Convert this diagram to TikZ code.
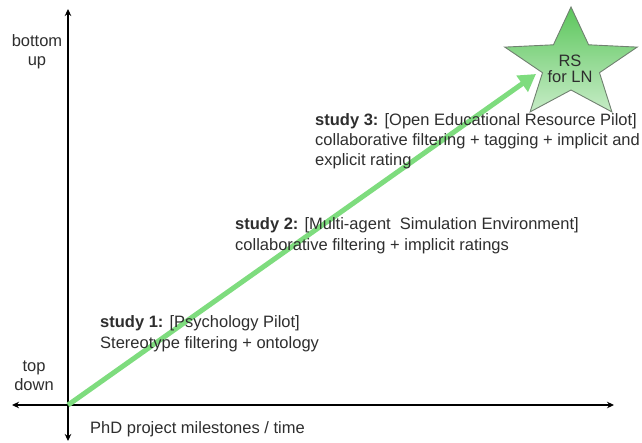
\documentclass[tikz,border=0pt]{standalone}
\usepackage{fontspec}
\setmainfont{Liberation Sans}
\usetikzlibrary{arrows.meta}
\definecolor{txt}{HTML}{2E2E2E}
\definecolor{arrowgreen}{HTML}{7EDC7E}
\definecolor{startop}{HTML}{5CC65C}
\definecolor{starbot}{HTML}{C6ECC6}
\definecolor{starline}{HTML}{708070}
\tikzset{
  axis/.style={line width=1.8pt,draw=black,{Stealth[length=7pt,width=6.5pt]}-{Stealth[length=7pt,width=6.5pt]}},
  lbl/.style={text=txt,font=\fontsize{16.5}{19}\selectfont,inner sep=0pt},
  studylbl/.style={text=txt,font=\fontsize{16.5}{20.3}\selectfont,inner sep=0pt,align=left,anchor=base west},
}
\begin{document}
\begin{tikzpicture}[x=1pt,y=-1pt]
\useasboundingbox (0,0) rectangle (642,442);
\coordinate (O) at (68,405);
\coordinate (xl) at (12,405);
\coordinate (xr) at (614,405);
\coordinate (yb) at (68,441);
\coordinate (yt) at (68,9);
\coordinate (tip) at (536,74);
\draw[axis] (xl) -- (xr);
\draw[axis] (yb) -- (yt);
% star
\shade[top color=startop,bottom color=starbot,draw=starline,line width=0.9pt,line join=miter]
  (571,7) -- (588.6,44.8) -- (637.2,47.1) -- (599.5,72.7) -- (611.9,111.9)
  -- (571,90) -- (530.1,111.9) -- (542.5,72.7) -- (504.8,47.1) -- (553.4,44.8) -- cycle;
\node[lbl,align=center,font=\fontsize{16.5}{16}\selectfont,anchor=base] (rs) at (570,82) {RS\\for LN};
\draw[line width=5pt,draw=arrowgreen,-{Triangle[length=17pt,width=19pt]}] (O) -- (tip);
\node[lbl,align=center,anchor=base] (bu) at (37,65) {bottom\\up};
\node[lbl,align=center,anchor=base] (td) at (34,390) {top\\down};
\node[lbl,anchor=base west] (time) at (90,433) {PhD project milestones / time};
\node[studylbl] (s1) at (100,348) {\textbf{study 1:} [Psychology Pilot]\\Stereotype filtering + ontology};
\node[studylbl] (s2) at (235,250) {\textbf{study 2:} [Multi-agent\ \ Simulation Environment]\\collaborative filtering + implicit ratings};
\node[studylbl] (s3) at (315,165.6) {\textbf{study 3:} [Open Educational Resource Pilot]\\collaborative filtering + tagging + implicit and\\explicit rating};
\end{tikzpicture}
\end{document}
